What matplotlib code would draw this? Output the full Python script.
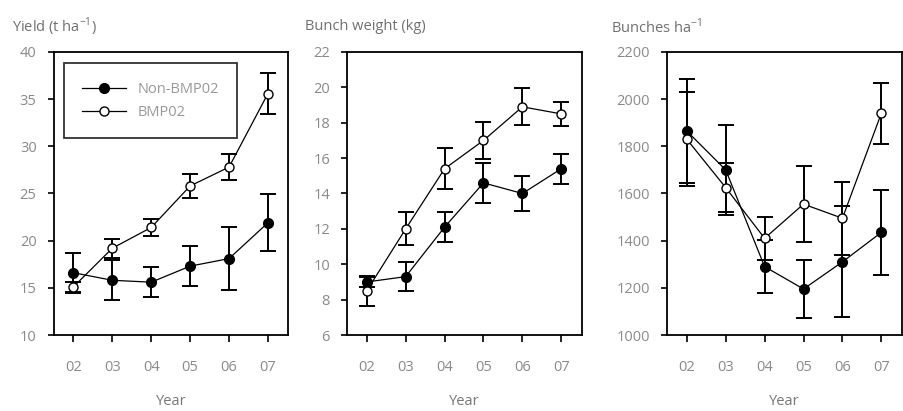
import numpy as np
import matplotlib
matplotlib.use("Agg")
from matplotlib import pyplot as plt

years = ["02", "03", "04", "05", "06", "07"]

# Yield (t/ha)
yield_non = [16.6, 15.8, 15.6, 17.3, 18.1, 21.9]
yield_non_err = [2.1, 2.1, 1.6, 2.1, 3.3, 3.0]
yield_bmp = [15.1, 19.2, 21.4, 25.8, 27.8, 35.6]
yield_bmp_err = [0.5, 1.0, 0.9, 1.3, 1.4, 2.2]

# Bunch weight (kg)
bw_non = [9.0, 9.3, 12.1, 14.6, 14.0, 15.4]
bw_non_err = [0.3, 0.8, 0.85, 1.15, 1.0, 0.85]
bw_bmp = [8.5, 12.0, 15.4, 17.0, 18.9, 18.5]
bw_bmp_err = [0.85, 0.93, 1.15, 1.07, 1.05, 0.7]

# Bunches per ha
bun_non = [1865, 1700, 1290, 1195, 1310, 1435]
bun_non_err = [220, 190, 112, 125, 235, 180]
bun_bmp = [1830, 1625, 1410, 1555, 1495, 1940]
bun_bmp_err = [200, 105, 90, 160, 155, 130]

titles = [r"Yield (t ha$^{\mathregular{-1}}$)", "Bunch weight (kg)", r"Bunches ha$^{\mathregular{-1}}$"]
ylims = [(10, 40), (6, 22), (1000, 2200)]
ysteps = [5, 2, 200]

plt.rcParams['font.family'] = ['Open Sans', 'DejaVu Sans']

fig = plt.figure(figsize=(9.04, 4.11), dpi=100)
lefts = [0.0597, 0.3842, 0.7382]
title_x = [12, 305, 611]

series = [
    (yield_non, yield_non_err, yield_bmp, yield_bmp_err),
    (bw_non, bw_non_err, bw_bmp, bw_bmp_err),
    (bun_non, bun_non_err, bun_bmp, bun_bmp_err),
]

x = np.arange(len(years))
grey = "#8a8a8a"

for i, (non, non_e, bmp, bmp_e) in enumerate(series):
    ax = fig.add_axes([lefts[i], 0.1849, 0.2591, 0.6886])
    ax.errorbar(x, non, yerr=non_e, fmt="none", ecolor="black", elinewidth=1.4,
                capsize=6, capthick=1.4, zorder=2)
    ax.errorbar(x, bmp, yerr=bmp_e, fmt="none", ecolor="black", elinewidth=1.4,
                capsize=6, capthick=1.4, zorder=2)
    ax.plot(x, non, color="black", lw=0.9, marker="o", ms=7, mfc="black",
            mec="black", label="Non-BMP02", zorder=3)
    ax.plot(x, bmp, color="black", lw=0.9, marker="o", ms=6.5, mfc="white",
            mec="black", mew=1.0, label="BMP02", zorder=4)

    ax.set_xlim(-0.5, 5.52)
    ax.set_ylim(*ylims[i])
    ax.set_yticks(np.arange(ylims[i][0], ylims[i][1] + 0.1, ysteps[i]))
    ax.set_xticks(x)
    ax.set_xticklabels(years)
    for s in ax.spines.values():
        s.set_linewidth(1.3)
    ax.tick_params(axis="x", direction="out", length=5, width=1.2, pad=13,
                   labelsize=10.5, labelcolor=grey)
    ax.tick_params(axis="y", direction="out", length=4.5, width=1.2, pad=8,
                   labelsize=10.5, labelcolor=grey)
    ax.set_xlabel("Year", fontsize=10.5, color="#777777", labelpad=14)
    fig.text(title_x[i] / 904, 1 - 27 / 411, titles[i], fontsize=10.5,
             color="#707070", ha="left", va="center")

    if i == 0:
        leg = ax.legend(loc="upper left", bbox_to_anchor=(0.03, 0.97),
                        fontsize=10.5, frameon=True, fancybox=False,
                        handlelength=3.0, borderpad=1.25, labelspacing=0.55,
                        borderaxespad=0.2, handletextpad=0.8)
        leg.get_frame().set_edgecolor("black")
        leg.get_frame().set_linewidth(1.3)
        for t in leg.get_texts():
            t.set_color("#999999")

fig.savefig("out.png", dpi=100)
